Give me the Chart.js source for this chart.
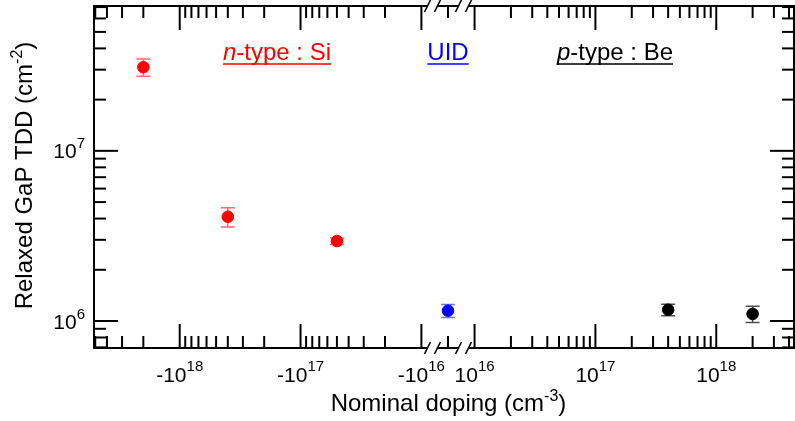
<!DOCTYPE html>
<html><head><meta charset="utf-8">
<script src="https://cdn.jsdelivr.net/npm/chart.js@4.4.0/dist/chart.umd.min.js"></script>
<style>html,body{margin:0;padding:0;background:#fff;}#wrap{width:795px;height:421px;position:relative;}</style>
</head><body><div id="wrap"><canvas id="c" width="795" height="421"></canvas></div>
<script>
// ---- data ----
const nDoping = [-2e18, -4e17, -5e16];
const nTDD    = [3.1e7, 4.1e6, 2.95e6];
const nErr    = [3.6e6, 5.3e5, 1.3e5];
const uidDoping = [0];
const uidTDD    = [1.15e6];
const uidErr    = [1.0e5];
const pDoping = [4e17, 2e18];
const pTDD    = [1.165e6, 1.1e6];
const pErr    = [9e4, 1.2e5];
const xMajorTicks = [-1e18, -1e17, -1e16, 1e16, 1e17, 1e18];
const xTickLabels = [['-10','18'], ['-10','17'], ['-10','16'], ['10','16'], ['10','17'], ['10','18']];
const xDecades = [16, 17, 18];
const xGapTicks = [0];
const yMajorTicks = [1e6, 1e7];
const yTickLabels = [['10','6'], ['10','7']];
const yDecades = [5, 6, 7];
const xRange = [-5.12e18, 4.4e18];
const yRange = [6.94e5, 7.1e7];

// split symmetric-log axis: |doping| >= 1e16 on each side, break gap around 0
const BREAK = 0.22;
function toPos(v){ return v === 0 ? 0 : Math.sign(v) * (Math.log10(Math.abs(v)) - 16 + BREAK); }

const FONT = '"Liberation Sans", Arial, Helvetica, sans-serif';

function mk(xs, ys, es){ return xs.map((d,i)=>({x: toPos(d), y: ys[i], err: es[i]})); }

function line(ctx,x1,y1,x2,y2){ ctx.beginPath(); ctx.moveTo(x1,y1); ctx.lineTo(x2,y2); ctx.stroke(); }

function drawSup(ctx, base, sup, x, y, align, fs, ss, raise){
  ctx.font = fs+'px '+FONT; const wb = ctx.measureText(base).width;
  ctx.font = ss+'px '+FONT; const ws = ctx.measureText(sup).width;
  const tot = wb + ws;
  let x0 = align==='center' ? x - tot/2 : (align==='right' ? x - tot : x);
  ctx.textAlign='left'; ctx.textBaseline='alphabetic';
  ctx.font = fs+'px '+FONT; ctx.fillText(base, x0, y);
  ctx.font = ss+'px '+FONT; ctx.fillText(sup, x0+wb, y-raise);
}

function drawRich(ctx, parts, cx, y, color, fs){
  ctx.textAlign='left'; ctx.textBaseline='alphabetic'; ctx.fillStyle=color; ctx.strokeStyle=color;
  let tot = 0;
  parts.forEach(p=>{ ctx.font=(p.it?'italic ':'')+fs+'px '+FONT; p.w=ctx.measureText(p.t).width; tot+=p.w; });
  let x = cx - tot/2; const x0 = x;
  parts.forEach(p=>{ ctx.font=(p.it?'italic ':'')+fs+'px '+FONT; ctx.fillText(p.t, x, y); x+=p.w; });
  ctx.lineWidth=1.5; line(ctx, x0, y+4.5, x0+tot, y+4.5);
}

const axesPlugin = {
  id:'axesPlugin',
  beforeDatasetsDraw(chart){
    const ctx=chart.ctx, xs=chart.scales.x, ys=chart.scales.y;
    chart.data.datasets.forEach(ds=>{
      ctx.save(); ctx.strokeStyle=ds.errColor; ctx.lineWidth=1.5;
      ds.data.forEach(p=>{
        const px=xs.getPixelForValue(p.x);
        const yt=ys.getPixelForValue(p.y+p.err), yb=ys.getPixelForValue(p.y-p.err);
        ctx.beginPath(); ctx.moveTo(px,yt); ctx.lineTo(px,yb);
        ctx.moveTo(px-7,yt); ctx.lineTo(px+7,yt);
        ctx.moveTo(px-7,yb); ctx.lineTo(px+7,yb); ctx.stroke();
      });
      ctx.restore();
    });
  },
  afterDraw(chart){
    const ctx=chart.ctx, xs=chart.scales.x, ys=chart.scales.y;
    const {left,right,top,bottom}=chart.chartArea;
    ctx.save();
    ctx.strokeStyle='#000'; ctx.fillStyle='#000'; ctx.lineWidth=2; ctx.lineCap='butt';
    // frame
    line(ctx,left,top-1,left,bottom+1); line(ctx,right,top-1,right,bottom+1);
    const c = xs.getPixelForValue(0);
    const p1=c-15.5, p2=c+15.5, h=5;
    [top,bottom].forEach(y=>{
      ctx.lineWidth=2;
      line(ctx,left-1,y,p1-h,y); line(ctx,p1+h,y,p2-h,y); line(ctx,p2+h,y,right+1,y);
      ctx.lineWidth=1.6;
      [p1-h,p1+h,p2-h,p2+h].forEach(sx=>line(ctx,sx-3,y+6,sx+3,y-6));
    });
    ctx.lineWidth=2;
    // x ticks
    const xmin=toPos(xRange[0]), xmax=toPos(xRange[1]);
    const xt=[];
    xDecades.forEach(n=>{ for(let k=1;k<=9;k++){ xt.push({v:-k*Math.pow(10,n),maj:k===1}); xt.push({v:k*Math.pow(10,n),maj:k===1}); } });
    xGapTicks.forEach(v=>xt.push({v:v,maj:false}));
    xt.forEach(t=>{
      const p=toPos(t.v); if(p<xmin||p>xmax) return;
      const px=xs.getPixelForValue(p); const L=t.maj?24:12;
      line(ctx,px,bottom,px,bottom-L); line(ctx,px,top,px,top+L);
    });
    // y ticks
    yDecades.forEach(n=>{ for(let k=1;k<=9;k++){
      const v=k*Math.pow(10,n); if(v<yRange[0]||v>yRange[1]) continue;
      const py=ys.getPixelForValue(v); const L=k===1?24:12;
      line(ctx,left,py,left+L,py); line(ctx,right,py,right-L,py);
    }});
    // tick labels
    ctx.fillStyle='#000';
    xMajorTicks.forEach((v,i)=>{
      const px=xs.getPixelForValue(toPos(v));
      drawSup(ctx, xTickLabels[i][0], xTickLabels[i][1], px, 382, 'center', 21, 15, 11);
    });
    yMajorTicks.forEach((v,i)=>{
      const py=ys.getPixelForValue(v);
      drawSup(ctx, yTickLabels[i][0], yTickLabels[i][1], 85, py+7.5, 'right', 21, 15, 10);
    });
    // axis titles
    (function(){
      const fs=24, ss=16;
      ctx.font=fs+'px '+FONT; const a='Nominal doping (cm', b=')';
      const wa=ctx.measureText(a).width, wc=ctx.measureText(b).width;
      ctx.font=ss+'px '+FONT; const wsup=ctx.measureText('-3').width;
      const tot=wa+wsup+wc; let x=448.5-tot/2; const y=411;
      ctx.textAlign='left'; ctx.textBaseline='alphabetic';
      ctx.font=fs+'px '+FONT; ctx.fillText(a,x,y);
      ctx.font=ss+'px '+FONT; ctx.fillText('-3',x+wa,y-10);
      ctx.font=fs+'px '+FONT; ctx.fillText(b,x+wa+wsup,y);
    })();
    (function(){
      const fs=24, ss=16;
      ctx.save(); ctx.translate(31.5,175.5); ctx.rotate(-Math.PI/2);
      ctx.font=fs+'px '+FONT; const a='Relaxed GaP TDD (cm', b=')';
      const wa=ctx.measureText(a).width, wc=ctx.measureText(b).width;
      ctx.font=ss+'px '+FONT; const wsup=ctx.measureText('-2').width;
      const tot=wa+wsup+wc; let x=-tot/2;
      ctx.textAlign='left'; ctx.textBaseline='alphabetic';
      ctx.font=fs+'px '+FONT; ctx.fillText(a,x,0);
      ctx.font=ss+'px '+FONT; ctx.fillText('-2',x+wa,-10);
      ctx.font=fs+'px '+FONT; ctx.fillText(b,x+wa+wsup,0);
      ctx.restore();
    })();
    // annotations
    drawRich(ctx, [{t:'n',it:true},{t:'-type : Si'}], 277, 59.5, '#ff0000', 24);
    drawRich(ctx, [{t:'UID'}], c, 59.5, '#0000ff', 24);
    drawRich(ctx, [{t:'p',it:true},{t:'-type : Be'}], 615, 59.5, '#000000', 24);
    ctx.restore();
  }
};

new Chart(document.getElementById('c').getContext('2d'), {
  type:'scatter',
  data:{datasets:[
    {label:'n-type : Si', data:mk(nDoping,nTDD,nErr), backgroundColor:'#ff0000', borderColor:'#ff0000', pointRadius:5.8, borderWidth:1, errColor:'rgba(255,80,80,0.85)'},
    {label:'UID', data:mk(uidDoping,uidTDD,uidErr), backgroundColor:'#0000ff', borderColor:'#0000ff', pointRadius:5.8, borderWidth:1, errColor:'rgba(90,90,255,0.85)'},
    {label:'p-type : Be', data:mk(pDoping,pTDD,pErr), backgroundColor:'#000000', borderColor:'#000000', pointRadius:5.8, borderWidth:1, errColor:'rgba(60,60,60,0.9)'}
  ]},
  options:{
    responsive:false, animation:false, devicePixelRatio:1,
    layout:{autoPadding:false, padding:{left:94,right:1,top:6,bottom:73}},
    plugins:{legend:{display:false}, tooltip:{enabled:false}},
    scales:{
      x:{type:'linear', min:toPos(xRange[0]), max:toPos(xRange[1]), display:false},
      y:{type:'logarithmic', min:yRange[0], max:yRange[1], display:false}
    }
  },
  plugins:[axesPlugin]
});
</script></body></html>
